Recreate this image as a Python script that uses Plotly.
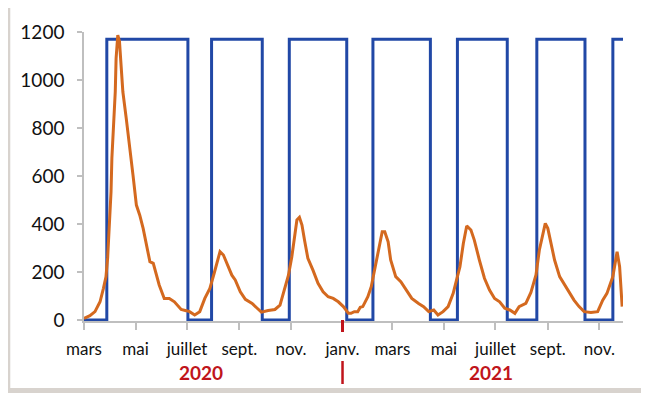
import pandas as pd
import plotly.graph_objects as go

# ---- data ----
start_date = "2020-03-01"
orange_day = [0, 7, 13, 19, 23, 26, 28, 30, 32, 33, 35, 37, 38, 40, 42, 44, 46, 50, 54, 58,
              62, 66, 70, 74, 78, 82, 89, 95, 101, 107, 112, 115, 121, 125, 131, 137, 143, 149,
              154, 158, 161, 165, 169, 175, 179, 185, 191, 199, 205, 210, 218, 226, 232, 236,
              242, 246, 250, 252, 255, 258, 261, 265, 271, 277, 283, 289, 295, 301, 307, 313,
              316, 320, 324, 327, 330, 336, 340, 344, 348, 353, 356, 360, 363, 369, 375, 382,
              388, 396, 402, 408, 414, 419, 425, 431, 437, 441, 445, 449, 453, 458, 462, 468,
              474, 480, 486, 492, 498, 504, 510, 515, 523, 529, 535, 539, 543, 546, 549, 553,
              557, 563, 569, 574, 580, 586, 592, 600, 608, 614, 619, 626, 631, 634, 637]
orange_val = [7, 18, 35, 76, 132, 180, 260, 396, 535, 674, 812, 951, 1090, 1187, 1160, 1062, 951, 840, 729, 604,
              479, 437, 382, 312, 243, 236, 146, 90, 90, 76, 56, 44, 39, 35, 21, 35, 90, 132,
              194, 250, 285, 271, 236, 187, 167, 118, 86, 69, 49, 33, 40, 44, 62, 111,
              187, 264, 361, 417, 428, 396, 333, 257, 208, 153, 118, 97, 90, 76, 56, 28,
              28, 35, 35, 53, 56, 97, 139, 208, 292, 368, 368, 326, 250, 181, 160, 125,
              90, 69, 56, 35, 42, 21, 35, 56, 111, 167, 222, 319, 392, 375, 333, 250,
              174, 125, 90, 76, 49, 42, 28, 56, 69, 115, 188, 292, 361, 403, 382, 319,
              250, 181, 146, 118, 83, 56, 35, 31, 35, 83, 111, 181, 285, 222, 56]

blue_dates = ["2020-03-01", "2020-03-28", "2020-07-02", "2020-07-30", "2020-09-28", "2020-10-30",
              "2021-01-06", "2021-02-06", "2021-04-15", "2021-05-17", "2021-07-15", "2021-08-19",
              "2021-10-15", "2021-11-17", "2021-11-29"]
blue_val = [0, 1170, 0, 1170, 0, 1170, 0, 1170, 0, 1170, 0, 1170, 0, 1170, 1170]

tick_dates = ["2020-03-01", "2020-05-01", "2020-07-01", "2020-09-01", "2020-11-01", "2021-01-01",
              "2021-03-01", "2021-05-01", "2021-07-01", "2021-09-01", "2021-11-01"]
tick_text = ["mars", "mai", "juillet", "sept.", "nov.", "janv.", "mars", "mai", "juillet", "sept.", "nov."]
y_ticks = [0, 200, 400, 600, 800, 1000, 1200]
years = ["2020", "2021"]
year_pos = [0.2163, 0.755]

orange_x = pd.Timestamp(start_date) + pd.to_timedelta(orange_day, unit="D")

BLUE = "#2148A6"
ORANGE = "#D4691F"
RED = "#C0141B"
GREY = "#BFBFBF"
FONT = "Lato, Carlito, sans-serif"

fig = go.Figure()
fig.add_trace(go.Scatter(x=blue_dates, y=blue_val, mode="lines", line=dict(color=BLUE, width=3, shape="hv"),
                         showlegend=False, hoverinfo="skip"))
fig.add_trace(go.Scatter(x=orange_x, y=orange_val, mode="lines", line=dict(color=ORANGE, width=3),
                         showlegend=False))

# page is offset by the 8px body margin
OFF = 8
W, H = 649 - OFF, 393 - OFF
L, R, T, B = 82 - OFF, 26, 32 - OFF, 72
pw, ph = W - L - R, H - T - B

def px_x(p):
    return (p - OFF - L) / pw

def px_y(p):
    return (H - B - (p - OFF)) / ph

shapes = [
    dict(type="rect", xref="paper", yref="paper", x0=px_x(OFF), x1=px_x(649), y0=px_y(388), y1=px_y(OFF),
         fillcolor="white", line=dict(width=0), layer="below"),
    dict(type="line", xref="x", yref="paper", x0="2021-01-01", x1="2021-01-01", y0=px_y(320), y1=px_y(332),
         line=dict(color=RED, width=3)),
    dict(type="line", xref="x", yref="paper", x0="2021-01-01", x1="2021-01-01", y0=px_y(361), y1=px_y(384),
         line=dict(color=RED, width=2.5)),
]

annotations = [dict(text=y, x=xp, y=px_y(372.5), xref="paper", yref="paper", showarrow=False,
                    font=dict(family=FONT, size=19, color=RED, weight="bold"), xanchor="center", yanchor="middle")
               for y, xp in zip(years, year_pos)]

fig.update_layout(
    width=W, height=H,
    margin=dict(l=L, r=R, t=T, b=B, pad=0),
    paper_bgcolor="#D8D3CE", plot_bgcolor="white",
    shapes=shapes, annotations=annotations,
    xaxis=dict(type="date", range=["2020-03-01", "2021-11-29"], tickmode="array", tickvals=tick_dates,
               ticktext=tick_text, showgrid=False, zeroline=False, showline=True, linecolor=GREY, linewidth=1.5,
               ticks="outside", ticklen=7, tickcolor=GREY, tickwidth=1.5, layer="below traces",
               tickfont=dict(family=FONT, size=17, color="#111111"), ticklabelstandoff=5),
    yaxis=dict(range=[-4, 1200], tickmode="array", tickvals=y_ticks, showgrid=False, zeroline=False,
               showline=True, linecolor=GREY, linewidth=1.5, ticks="outside", ticklen=5, tickcolor=GREY,
               tickwidth=1.5, layer="below traces",
               tickfont=dict(family=FONT, size=19, color="#111111"), ticklabelstandoff=9),
)

fig.write_html("out.html")
